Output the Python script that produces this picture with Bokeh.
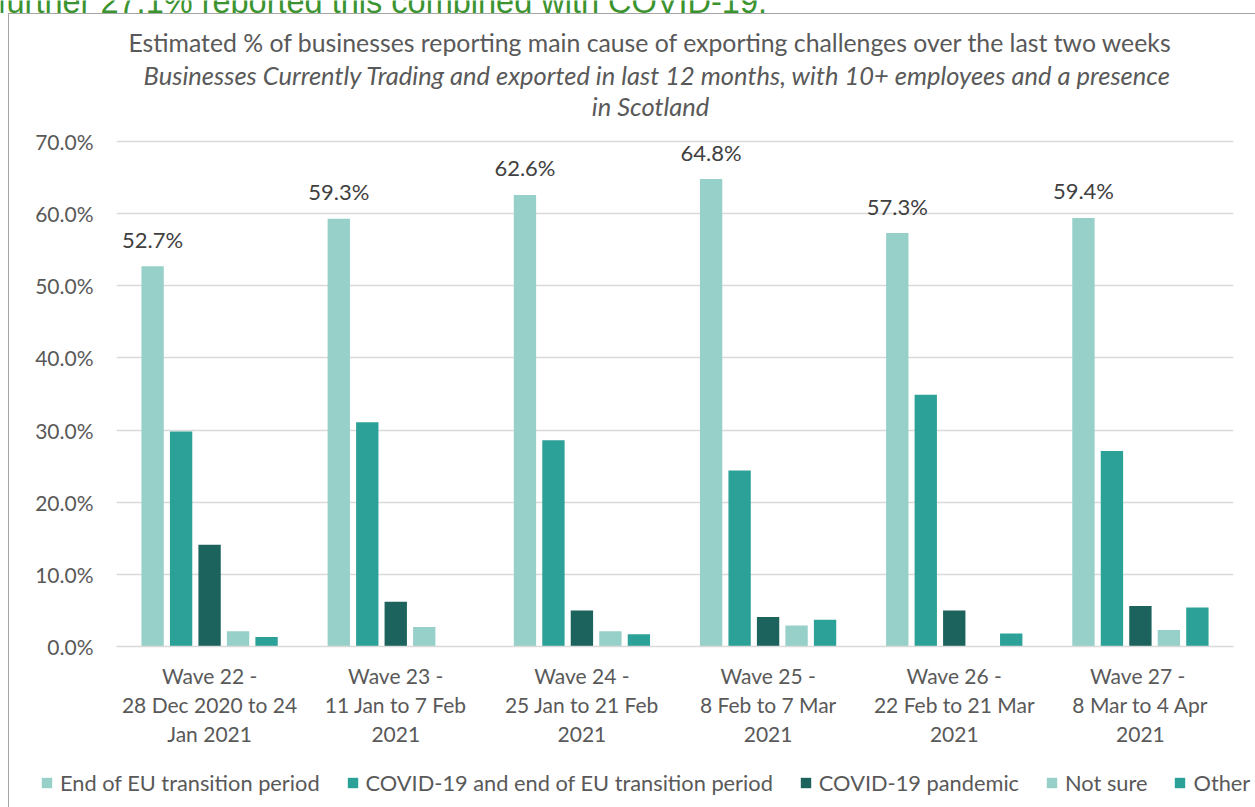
from bokeh.plotting import figure
from bokeh.layouts import column
from bokeh.models import (ColumnDataSource, LabelSet, Legend, LegendItem,
                          PrintfTickFormatter, FixedTicker, Range1d)
from bokeh.transform import dodge
from bokeh.core.properties import value
from bokeh.embed import file_html
from bokeh.resources import INLINE

# ---------------- data ----------------
waves = [
    "Wave 22 -\n28 Dec 2020 to 24\nJan 2021",
    "Wave 23 -\n11 Jan to 7 Feb\n2021",
    "Wave 24 -\n25 Jan to 21 Feb\n2021",
    "Wave 25 -\n8 Feb to 7 Mar\n2021",
    "Wave 26 -\n22 Feb to 21 Mar\n2021",
    "Wave 27  -\n8 Mar to 4 Apr\n2021",
]
eu_transition = [52.7, 59.3, 62.6, 64.8, 57.3, 59.4]
covid_and_eu = [29.8, 31.1, 28.6, 24.4, 34.9, 27.1]
covid_pandemic = [14.1, 6.2, 5.0, 4.1, 5.0, 5.6]
not_sure = [2.1, 2.7, 2.1, 2.9, 0.0, 2.3]
other = [1.3, 0.0, 1.7, 3.7, 1.8, 5.4]

series_names = ["End of EU transition period", "COVID-19 and end of EU transition period",
                "COVID-19 pandemic", "Not sure", "Other"]
series_cols = ["eu", "covid_eu", "pandemic", "not_sure", "other"]
series_colors = ["#97D0C9", "#2CA197", "#1B635C", "#97D0C9", "#2CA197"]
offsets = [-0.306, -0.153, 0.0, 0.153, 0.306]

y_ticks = [0, 10, 20, 30, 40, 50, 60, 70]
title_lines = [
    "Estimated % of businesses reporting main cause of exporting challenges over the last two weeks",
    "Businesses Currently Trading and exported in last 12 months, with 10+ employees and a presence",
    "in Scotland",
]
title_styles = ["normal", "italic", "italic"]
title_sizes = ["24.8px", "25.5px", "25.5px"]
title_dx = [2, 9, 2]
title_dy = [28, 60, 91]
top_text = "further 27.1% reported this combined with COVID-19."

FONT = "Lato"
GREY = "#595959"
W_BOX = 1246
H_TOP = 13
H_MAIN = 754
H_LEG = 39
BORDER = "1px solid #A6A6A6"

src = ColumnDataSource(dict(
    wave=waves, eu=eu_transition, covid_eu=covid_and_eu, pandemic=covid_pandemic,
    not_sure=not_sure, other=other,
    eu_lbl=[f"{v:.1f}%" for v in eu_transition],
))

# ---------------- cut-off text above the chart box ----------------
top = figure(x_range=Range1d(0, 1255), y_range=Range1d(0, H_TOP), width=1255, height=H_TOP,
             output_backend="svg", toolbar_location=None,
             x_axis_location=None, y_axis_location=None,
             min_border_left=0, min_border_right=0, min_border_top=0, min_border_bottom=0)
top.grid.visible = False
top.outline_line_color = None
top.text(x=[-3], y=[H_TOP - 1], text=[top_text], text_baseline="alphabetic",
         text_font=value("Liberation Sans"), text_font_size="32.5px", text_color="#3C9430")

# ---------------- main chart ----------------
# frame: canvas y 0..632, 70% at canvas y 127
Y_TOP = 70 * 632 / 505
p = figure(x_range=waves, y_range=Range1d(0, Y_TOP), width=W_BOX, height=H_MAIN,
           output_backend="svg", toolbar_location=None,
           min_border_left=107, min_border_right=22, min_border_top=0,
           min_border_bottom=H_MAIN - 632)
p.outline_line_color = None
p.background_fill_color = "white"
p.border_fill_color = "white"

renderers = []
for col, off, colr in zip(series_cols, offsets, series_colors):
    r = p.vbar(x=dodge("wave", off, range=p.x_range), top=col, width=0.12,
               source=src, fill_color=colr, line_color=None)
    renderers.append(r)

labels = LabelSet(x=dodge("wave", offsets[0], range=p.x_range), y="eu", text="eu_lbl",
                  source=src, text_align="center", text_baseline="middle", y_offset=27,
                  text_font=value(FONT), text_font_size="22px", text_color="#404040")
p.add_layout(labels)

# titles drawn inside the (extended) frame, above the 70% line
px_per_unit = 505 / 70
cat_px = 1117 / len(waves)
for txt, dy, dx, st, fs in zip(title_lines, title_dy, title_dx, title_styles, title_sizes):
    p.text(x=[(532 + dx) / cat_px], y=[Y_TOP - dy / px_per_unit], text=[txt],
           text_align="center", text_baseline="middle",
           text_font=value(FONT), text_font_size=fs, text_font_style=st, text_color=GREY)

# axes
p.yaxis.ticker = FixedTicker(ticks=y_ticks)
p.yaxis.formatter = PrintfTickFormatter(format="%.1f%%")
p.yaxis.axis_line_color = None
p.yaxis.major_tick_line_color = None
p.yaxis.minor_tick_line_color = None
p.yaxis.major_label_standoff = 17
p.yaxis.major_label_text_font = FONT
p.yaxis.major_label_text_font_size = "21px"
p.yaxis.major_label_text_color = GREY

p.xaxis.axis_line_color = "#D9D9D9"
p.xaxis.axis_line_width = 1.5
p.xaxis.major_tick_line_color = None
p.xaxis.minor_tick_line_color = None
p.xaxis.major_label_standoff = 10
p.xaxis.major_label_text_font = FONT
p.xaxis.major_label_text_font_size = "21px"
p.xaxis.major_label_text_color = GREY
p.xaxis.major_label_text_line_height = 1.17

p.xgrid.grid_line_color = None
p.ygrid.grid_line_color = "#D9D9D9"
p.ygrid.grid_line_width = 1.5

# ---------------- legend strip ----------------
lg = figure(x_range=Range1d(0, 1), y_range=Range1d(0, 1), width=W_BOX, height=H_LEG,
            output_backend="svg", toolbar_location=None,
            x_axis_location=None, y_axis_location=None,
            min_border_left=0, min_border_right=0, min_border_top=0, min_border_bottom=0)
lg.grid.visible = False
lg.outline_line_color = None
leg_renderers = [lg.vbar(x=[0], top=[0], width=0, fill_color=c, line_color=None)
                 for c in series_colors]
legend = Legend(items=[LegendItem(label=n, renderers=[r]) for n, r in zip(series_names, leg_renderers)],
                orientation="horizontal", location=(31, 11),
                label_text_font=FONT, label_text_font_size="21.8px", label_text_color=GREY,
                glyph_width=13, glyph_height=13, label_standoff=7, spacing=26,
                padding=0, margin=0, border_line_color=None, background_fill_alpha=0)
lg.add_layout(legend)

box_main = column(p, margin=(0, 0, 0, 8), styles={"border-left": BORDER, "border-top": BORDER})
box_leg = column(lg, margin=(0, 0, 0, 8), styles={"border-left": BORDER})
page = column(top, box_main, box_leg, spacing=0)
open("out.html", "w").write(file_html(page, INLINE))
